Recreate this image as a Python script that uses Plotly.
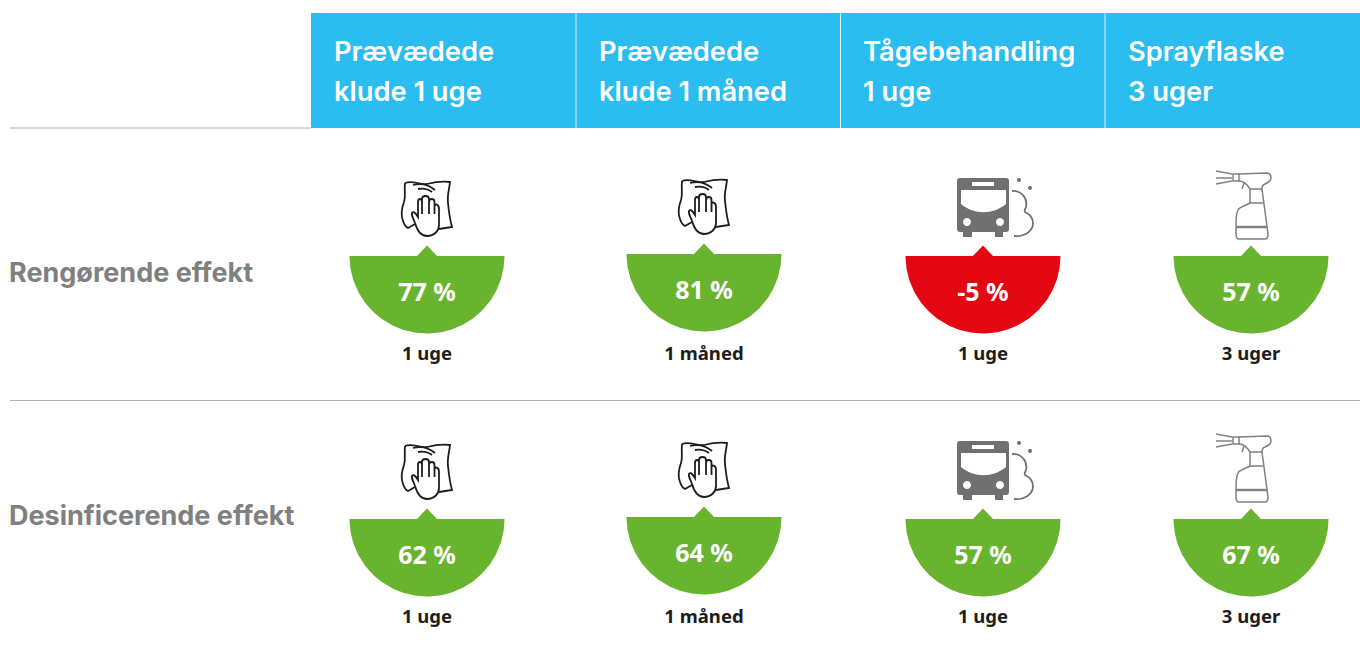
import re
import numpy as np
import plotly.graph_objects as go

# ---------- data ----------
header_line1 = ["Prævædede", "Prævædede", "Tågebehandling", "Sprayflaske"]
header_line2 = ["klude 1 uge", "klude 1 måned", "1 uge", "3 uger"]
row_labels = ["Rengørende effekt", "Desinficerende effekt"]
clean_values = [77, 81, -5, 57]
disinfect_values = [62, 64, 57, 67]
durations = ["1 uge", "1 måned", "1 uge", "3 uger"]
icons = ["cloth", "cloth", "bus", "spray"]

# ---------- layout constants ----------
W, H = 1360, 663
col_x = [427, 704, 983, 1251]
col_shift = [[0, -2, 0, 0], [0, -2, 0, 0]]
row_y = [256, 519]
RADIUS = 77.5
GREEN, RED, BLUE = "#69b42e", "#e30613", "#2bbcf0"
GREY, DARK = "#808080", "#1d1d1b"

CLOTH = [
    "M-22,-73 C-14,-76 -8,-71 0,-72 C8,-74 15,-75 23,-74 C22,-65 20,-60 21,-53 C22,-43 23,-36 25,-29 L12,-27",
    "M-22,-73 C-23,-64 -21,-60 -23,-54 C-26,-46 -26,-40 -24,-35 C-23,-32 -21,-29 -19,-28 L-12,-32",
    "M-14,-71 C-6,-73 2,-71 8,-66",
    "M-9,-67 C-3,-68 1,-67 5,-64",
    "M-12,-33 C-13,-37 -16,-40 -15,-43 C-14,-45 -12,-44 -9,-39 L-9,-54 C-9,-58 -5,-58 -5,-54 L-5,-42 "
    "L-5,-57 C-5,-61 2,-61 2,-57 L2,-42 L2,-54 C2,-58 7.5,-58 7.5,-54 L7.5,-42 L7.5,-49 C7.5,-53 12,-52 12,-47 "
    "L12,-31 C12,-25 7,-20 0,-20 C-6,-20 -10,-26 -12,-33 Z",
]
BUS_SOLID = [
    "M-26,-75 C-26,-77 -25,-78 -23,-78 L23,-78 C25,-78 26,-77 26,-75 L26,-27 C26,-25 25,-24 23,-24 "
    "L20,-24 L20,-19 L12,-19 L12,-24 L-11,-24 L-11,-19 L-20,-19 L-20,-24 L-23,-24 C-25,-24 -26,-25 -26,-27 Z "
    "M-11,-74 L11,-74 L11,-70 L-11,-70 Z "
    "M-22,-66 L23,-66 L23,-52 C10,-41 -9,-41 -22,-52 Z "
    "M-16,-38 C-18.2,-38 -20,-36.2 -20,-34 C-20,-31.8 -18.2,-30 -16,-30 C-13.8,-30 -12,-31.8 -12,-34 C-12,-36.2 -13.8,-38 -16,-38 Z "
    "M17,-38 C14.8,-38 13,-36.2 13,-34 C13,-31.8 14.8,-30 17,-30 C19.2,-30 21,-31.8 21,-34 C21,-36.2 19.2,-38 17,-38 Z",
    "M34,-76 C34,-78.6 38,-78.6 38,-76 C38,-73.4 34,-73.4 34,-76 Z",
    "M45,-68 C45,-70.6 49,-70.6 49,-68 C49,-65.4 45,-65.4 45,-68 Z",
]
BUS_LINE = ["M29,-65 C38,-66 45,-58 43,-49 C42,-46 41,-46 42,-44 C46,-42 50,-38 50,-33 C50,-25 42,-19 31,-20"]
SPRAY = [
    "M-35,-85 L-19,-82", "M-35,-78 L-19,-78", "M-35,-72 L-19,-75",
    "M-18,-82 L-12,-82 L-12,-75 L-18,-75 Z",
    "M-12,-82 L16,-83 C19,-83 20,-81 20,-78 C20,-75 18,-74 14,-72 C11,-71 11,-69 11,-67",
    "M-12,-75 C-8,-75 -4,-72 -1,-67 L11,-67",
    "M-7,-73 L-9,-67",
    "M-1,-67 L-1,-53 C-6,-50 -12,-49 -13,-46 C-15,-42 -15,-38 -15,-22 C-15,-19 -14,-17 -12,-17 "
    "L14,-17 C16,-17 17,-19 17,-22 L11,-67",
    "M-1,-53 L12,-53",
]
SPRAY_THICK = ["M-15,-29 L16,-29"]


def shift(path, dx, dy):
    nums = iter(range(10 ** 6))
    def repl(m):
        i = next(nums)
        return f"{float(m.group()) + (dx if i % 2 == 0 else dy):g}"
    return re.sub(r"-?\d+(?:\.\d+)?", repl, path)


def line_shape(path, dx, dy, color, width):
    return dict(type="path", path=shift(path, dx, dy), xref="x", yref="y",
                line=dict(color=color, width=width), fillcolor="rgba(0,0,0,0)", layer="above")


def solid_shape(path, dx, dy, color):
    return dict(type="path", path=shift(path, dx, dy), xref="x", yref="y",
                line=dict(width=0), fillcolor=color, layer="above")


def icon_shapes(kind, cx, cy):
    if kind == "cloth":
        return [line_shape(p, cx, cy, DARK, 1.8) for p in CLOTH]
    if kind == "bus":
        return ([solid_shape(p, cx, cy, "#707070") for p in BUS_SOLID]
                + [line_shape(p, cx, cy, "#707070", 1.8) for p in BUS_LINE])
    return ([line_shape(p, cx, cy, GREY, 1.5) for p in SPRAY]
            + [line_shape(p, cx, cy, GREY, 2.4) for p in SPRAY_THICK])


fig = go.Figure()
shapes = [
    dict(type="rect", x0=311, x1=W, y0=13, y1=128, fillcolor=BLUE, line_width=0, layer="below"),
    dict(type="line", x0=10, x1=311, y0=128, y1=128, line=dict(color="#b0b0b0", width=1)),
    dict(type="line", x0=10, x1=W, y0=400.5, y1=400.5, line=dict(color="#b0b0b0", width=1)),
]
for x in (576, 840.5, 1105):
    shapes.append(dict(type="line", x0=x, x1=x, y0=13, y1=128, line=dict(color="#d5f1fc", width=1)))

# half discs with the little pointer on top
theta = np.linspace(0, np.pi, 121)
for r, vals in enumerate([clean_values, disinfect_values]):
    for c, v in enumerate(vals):
        cx, cy = col_x[c], row_y[r] + col_shift[r][c]
        xs = [cx - RADIUS, cx - 10, cx, cx + 10, cx + RADIUS] + list(cx + RADIUS * np.cos(theta))
        ys = [cy, cy, cy - 10.5, cy, cy] + list(cy + RADIUS * np.sin(theta))
        fig.add_trace(go.Scatter(x=xs, y=ys, mode="lines", fill="toself",
                                 fillcolor=GREEN if v >= 0 else RED,
                                 line=dict(width=0), hoverinfo="skip", showlegend=False))
        shapes += icon_shapes(icons[c], cx, cy)

# value and duration labels
for r, vals in enumerate([clean_values, disinfect_values]):
    xs = col_x
    ys = [row_y[r] + col_shift[r][c] + 39 for c in range(4)]
    fig.add_trace(go.Scatter(x=xs, y=ys, mode="text", text=[f"{v} %" for v in vals],
                             textfont=dict(family="Noto Sans", size=25, color="white", weight=700),
                             hoverinfo="skip", showlegend=False))
    fig.add_trace(go.Scatter(x=xs, y=[row_y[r] + 99.5] * 4, mode="text", text=durations,
                             textfont=dict(family="Noto Sans", size=18.5, color="#1d1d1b", weight=700),
                             hoverinfo="skip", showlegend=False))

# row labels
fig.add_trace(go.Scatter(x=[9, 9], y=[275, 518], mode="text", text=row_labels, textposition="middle right",
                         textfont=dict(family="Inter", size=27, color=GREY, weight=700),
                         hoverinfo="skip", showlegend=False))

# header text
header_x = [334, 599, 863, 1128]
for y, line in ((54.5, header_line1), (94.5, header_line2)):
    fig.add_trace(go.Scatter(x=header_x, y=[y] * 4, mode="text", text=line, textposition="middle right",
                             textfont=dict(family="Inter", size=27.3, color="white", weight=600),
                             hoverinfo="skip", showlegend=False))

fig.update_layout(
    width=W, height=H, margin=dict(l=0, r=0, t=0, b=0),
    paper_bgcolor="white", plot_bgcolor="white", showlegend=False, shapes=shapes,
    xaxis=dict(range=[0, W], visible=False, fixedrange=True),
    yaxis=dict(range=[H, 0], visible=False, fixedrange=True),
)
fig.write_html("out.html", config={"displayModeBar": False},
               post_script="document.body.style.margin='0';")
